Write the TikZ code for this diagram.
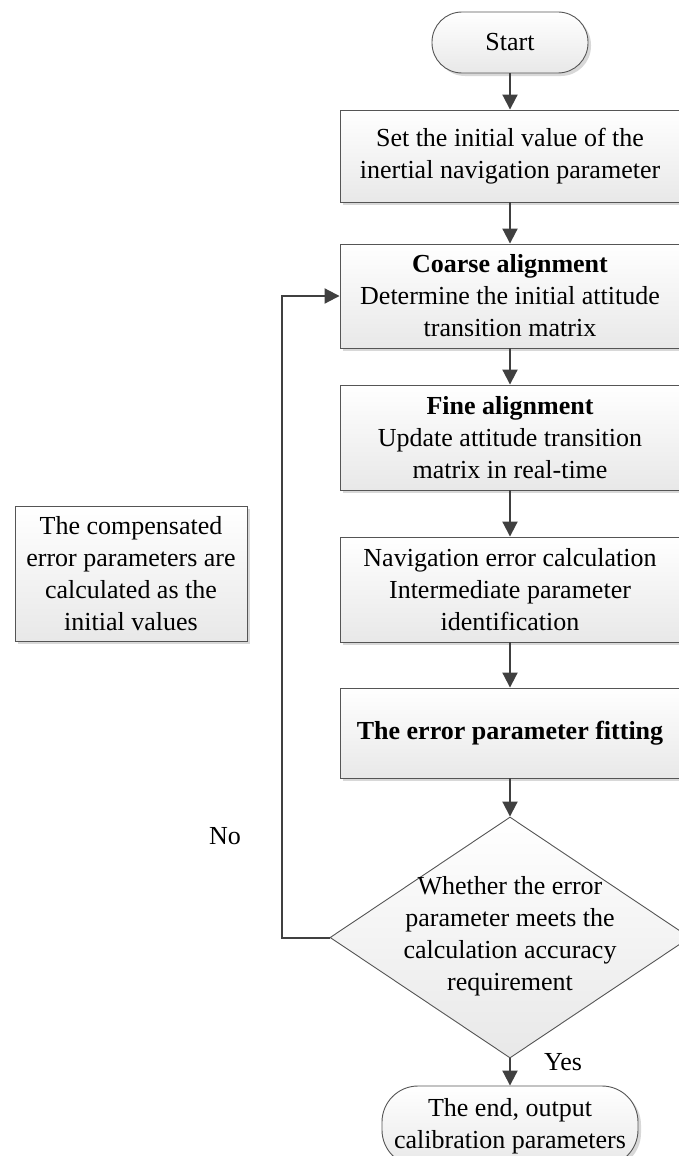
\documentclass[tikz,border=0pt]{standalone}
\usepackage{fontspec}
\setmainfont{Liberation Serif}
\usetikzlibrary{shapes.geometric,shadows,arrows.meta}
\definecolor{arrowgray}{RGB}{64,64,64}
\definecolor{bordergray}{RGB}{85,85,85}
\tikzset{
  base/.style={draw=bordergray, line width=0.9pt, top color=white, bottom color=black!9,
    inner sep=0pt, align=center, font=\fontsize{26}{32}\selectfont,
    drop shadow={shadow xshift=3pt, shadow yshift=-3pt, fill=black!30, opacity=0.5}},
  procbox/.style={base, rectangle, minimum width=340pt},
  termbox/.style={base, rectangle, rounded corners=30pt},
  decbox/.style={draw=bordergray, line width=0.9pt, top color=white, bottom color=black!9,
    diamond, inner sep=0pt, minimum width=360pt, minimum height=241pt},
  flow/.style={draw=arrowgray, line width=2pt, -{Triangle[length=15pt,width=15pt]}},
  lbl/.style={font=\fontsize{26}{32}\selectfont, align=center, inner sep=0pt},
}
\begin{document}
\begin{tikzpicture}[x=1pt,y=1pt]
\useasboundingbox (0,0) rectangle (679,-1156);
\node[termbox, minimum width=156pt, minimum height=61pt] (start) at (510,-42.5) {Start};
\node[procbox, minimum height=92pt] (b1) at (510,-156) {Set the initial value of the\\inertial navigation parameter};
\node[procbox, minimum height=104pt] (b2) at (510,-296) {\textbf{Coarse alignment}\\Determine the initial attitude\\transition matrix};
\node[procbox, minimum height=105pt] (b3) at (510,-437.5) {\textbf{Fine alignment}\\Update attitude transition\\matrix in real-time};
\node[procbox, minimum height=105pt] (b4) at (510,-589.5) {Navigation error calculation\\Intermediate parameter\\identification};
\node[procbox, minimum height=90pt] (b5) at (510,-733) {\textbf{The error parameter fitting}};
\node[decbox] (dia) at (510,-937.5) {};
\node[lbl] (diatext) at (510,-936) {Whether the error\\parameter meets the\\calculation accuracy\\requirement};
\node[termbox, rounded corners=36pt, minimum width=256pt, minimum height=80pt] (end) at (510,-1126) {The end, output\\calibration parameters};
\node[procbox, minimum width=232pt, minimum height=135pt] (side) at (131,-573.5) {The compensated\\error parameters are\\calculated as the\\initial values};
\node[lbl] (no) at (225,-836) {No};
\node[lbl] (yes) at (563,-1062) {Yes};
\coordinate (lp) at (282,-937.5);
\draw[flow] (start) -- (b1);
\draw[flow] (b1) -- (b2);
\draw[flow] (b2) -- (b3);
\draw[flow] (b3) -- (b4);
\draw[flow] (b4) -- (b5);
\draw[flow] (b5) -- (dia);
\draw[flow] (dia) -- (end);
\draw[flow] (dia.west) -- (lp) |- (b2.west);
\end{tikzpicture}
\end{document}
